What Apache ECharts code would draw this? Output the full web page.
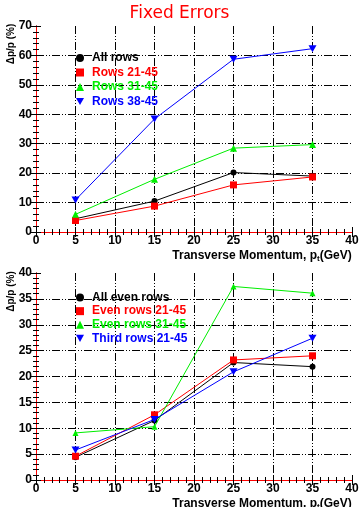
<!DOCTYPE html>
<html><head><meta charset="utf-8">
<script src="https://cdn.jsdelivr.net/npm/echarts@6/dist/echarts.min.js"></script>
<style>html,body{margin:0;padding:0;background:#fff}#c{width:359px;height:507px}</style>
</head><body><div id="c"></div>
<script>
var xValues = [5, 15, 25, 35];
var xTicks = { min: 0, max: 40, interval: 5 };
// top panel
var topNames = ['All rows', 'Rows 21-45', 'Rows 31-45', 'Rows 38-45'];
var topAll = [4.5, 10.5, 20.2, 19.0];
var topR21 = [3.9, 8.8, 16.0, 18.7];
var topR31 = [6.0, 17.9, 28.5, 29.7];
var topR38 = [10.9, 38.4, 58.7, 62.3];
var topY = { min: 0, max: 70, interval: 10 };
// bottom panel
var botNames = ['All even rows', 'Even rows 21-45', 'Even rows 31-45', 'Third rows 21-45'];
var botAll = [4.4, 11.5, 22.7, 21.9];
var botE21 = [4.6, 12.6, 23.2, 24.0];
var botE31 = [9.1, 10.3, 37.4, 36.1];
var botT21 = [5.8, 11.7, 20.9, 27.4];
var botY = { min: 0, max: 40, interval: 5 };

var title = 'Fixed Errors';
var yName = 'Δp/p (%)';
var xName = '{n|Transverse Momentum, p}{s|t}{n|(GeV)}';

var colors = ['#000000', '#ff0000', '#00ee00', '#0000ff'];
var downTri = 'path://M0,0 L10,0 L5,9 Z';

function pts(arr) { return arr.map(function (v, i) { return [xValues[i], v]; }); }

var grid0 = { left: 36, right: 7, top: 26, height: 206, outerBoundsMode: 'none', containLabel: false };
var grid1 = { left: 36, right: 7, top: 273, height: 207, outerBoundsMode: 'none', containLabel: false };

var dashDot = [8, 2, 1, 2, 1, 2];
var tickStyle = { show: true, inside: true, length: 5, lineStyle: { color: '#000', width: 1 } };
var minor = { show: true, splitNumber: 5, length: 3, lineStyle: { color: '#000', width: 1 } };
var labelFont = { color: '#000', fontSize: 12, fontWeight: 'bold', fontFamily: 'Liberation Sans' };

function xAxes(gi) {
  return [{
    type: 'value', gridIndex: gi, min: xTicks.min, max: xTicks.max, interval: xTicks.interval,
    position: 'bottom',
    axisLine: { lineStyle: { color: '#ff0000', width: 1 } },
    axisTick: tickStyle, minorTick: minor,
    axisLabel: Object.assign({ margin: 3 }, labelFont),
    splitLine: { show: true, showMinLine: true, showMaxLine: false, lineStyle: { color: '#000', type: dashDot, width: 1 } },
    name: xName, nameLocation: 'middle', nameGap: 17, nameMoveOverlap: false,
    nameTextStyle: {
      padding: [0, 0, 0, 136],
      rich: {
        n: { fontSize: 12, fontWeight: 'bold', fontFamily: 'Liberation Sans', color: '#000', lineHeight: 14 },
        s: { fontSize: 8, fontWeight: 'bold', fontFamily: 'Liberation Sans', color: '#000', lineHeight: 14, verticalAlign: 'bottom', padding: [5, 0, 0, 0] }
      }
    }
  }, {
    type: 'value', gridIndex: gi, min: xTicks.min, max: xTicks.max, interval: xTicks.interval,
    position: 'top',
    axisLine: { lineStyle: { color: '#ff0000', width: 1 } },
    axisTick: tickStyle, minorTick: minor,
    axisLabel: { show: false }, splitLine: { show: false }
  }];
}
function yAxes(gi, y, shift) {
  return [{
    type: 'value', gridIndex: gi, min: y.min, max: y.max, interval: y.interval,
    position: 'left',
    axisLine: { show: true, lineStyle: { color: '#000', width: 1 } },
    axisTick: tickStyle, minorTick: minor,
    axisLabel: Object.assign({ margin: 4 }, labelFont),
    splitLine: { show: true, showMinLine: false, showMaxLine: false, lineStyle: { color: '#000', type: dashDot, width: 1 } },
    name: yName, nameLocation: 'middle', nameGap: 20, nameRotate: 90, nameMoveOverlap: false,
    nameTextStyle: { color: '#000', fontSize: 10, fontWeight: 'bold', fontFamily: 'Liberation Sans', padding: [0, 0, 0, shift] }
  }, {
    type: 'value', gridIndex: gi, min: y.min, max: y.max, interval: y.interval,
    position: 'right',
    axisLine: { show: true, lineStyle: { color: '#ff0000', width: 1 } },
    axisTick: tickStyle, minorTick: minor,
    axisLabel: { show: false }, splitLine: { show: false }
  }];
}

var symbols = ['circle', 'rect', 'triangle', downTri];
var symSizes = [6, 7, 7, [8, 7]];
var symSizesB = [6, 7, 6, [8, 7]];

function mkSeries(names, datas, xi, yi, sizes) {
  return names.map(function (n, i) {
    return {
      name: n, type: 'line', xAxisIndex: xi, yAxisIndex: yi,
      data: pts(datas[i]), symbol: symbols[i], symbolSize: sizes[i], showAllSymbol: true,
      lineStyle: { color: colors[i], width: 1 }, itemStyle: { color: colors[i] },
      animation: false, z: 3 + i
    };
  });
}

function mkLegend(names, top, lineH) {
  return {
    orient: 'vertical', left: 71, top: top, itemWidth: 8, itemHeight: 8, itemGap: 0.5,
    selectedMode: false,
    data: names.map(function (n, i) {
      return { name: n, icon: symbols[i], itemStyle: { color: colors[i] },
        textStyle: { color: colors[i], fontSize: 12, fontWeight: 'bold', fontFamily: 'Liberation Sans', lineHeight: lineH, padding: [0, 0, 0, 3] } };
    })
  };
}

var chart = echarts.init(document.getElementById('c'), null, { renderer: 'canvas' });
chart.setOption({
  animation: false,
  backgroundColor: '#fff',
  title: { text: title, left: 'center', top: 0, textStyle: { color: '#ff0000', fontSize: 17, fontWeight: 'normal', fontFamily: 'DejaVu Sans' } },
  grid: [grid0, grid1],
  xAxis: xAxes(0).concat(xAxes(1)),
  yAxis: yAxes(0, topY, 170).concat(yAxes(1, botY, 170)),
  legend: [mkLegend(topNames, 46, 14), mkLegend(botNames, 286, 13.1)],
  series: mkSeries(topNames, [topAll, topR21, topR31, topR38], 0, 0, symSizes)
    .concat(mkSeries(botNames, [botAll, botE21, botE31, botT21], 2, 2, symSizesB))
});
</script></body></html>
